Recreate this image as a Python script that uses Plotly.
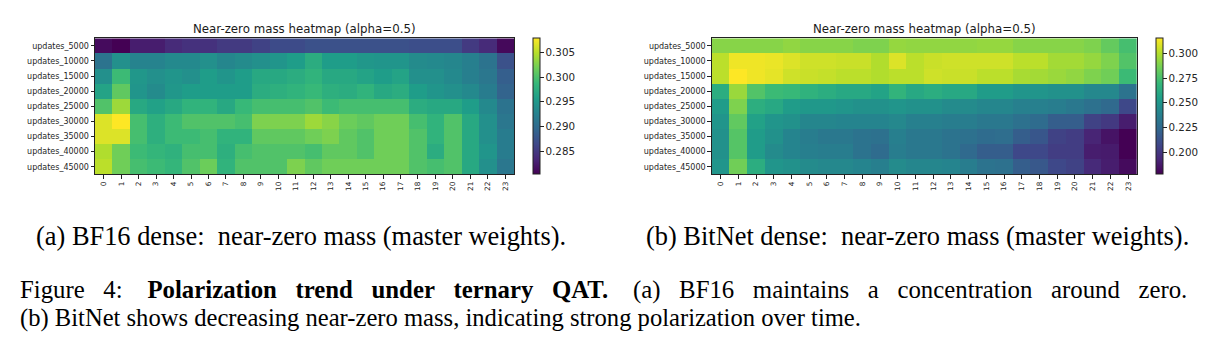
import numpy as np
import plotly.graph_objects as go

W, H = 1222, 343

rows = ["updates_5000", "updates_10000", "updates_15000", "updates_20000", "updates_25000",
        "updates_30000", "updates_35000", "updates_40000", "updates_45000"]
cols = [str(i) for i in range(24)]

bf16_5000 = [0.2811,0.2803,0.2825,0.2825,0.2836,0.2842,0.2842,0.2850,0.2850,0.2858,0.2866,0.2866,0.2872,0.2872,0.2872,0.2872,0.2872,0.2872,0.2869,0.2869,0.2869,0.2850,0.2836,0.2809]
bf16_10000 = [0.2908,0.2941,0.2927,0.2927,0.2933,0.2933,0.2941,0.2930,0.2935,0.2941,0.2947,0.2955,0.2974,0.2955,0.2955,0.2949,0.2947,0.2947,0.2935,0.2933,0.2930,0.2922,0.2908,0.2872]
bf16_15000 = [0.2941,0.2991,0.2949,0.2941,0.2947,0.2941,0.2955,0.2947,0.2955,0.2969,0.2969,0.2974,0.2982,0.2969,0.2969,0.2963,0.2955,0.2963,0.2941,0.2941,0.2933,0.2922,0.2913,0.2886]
bf16_20000 = [0.2963,0.3010,0.2947,0.2935,0.2949,0.2955,0.2955,0.2955,0.2955,0.2974,0.2977,0.2982,0.2988,0.2977,0.2974,0.2982,0.2969,0.2974,0.2955,0.2947,0.2941,0.2933,0.2919,0.2891]
bf16_25000 = [0.3002,0.3038,0.2969,0.2960,0.2969,0.2982,0.2982,0.2969,0.2988,0.2996,0.2996,0.2996,0.3002,0.2991,0.2996,0.2996,0.2996,0.2996,0.2974,0.2969,0.2969,0.2955,0.2933,0.2908]
bf16_30000 = [0.3065,0.3079,0.2996,0.2977,0.2991,0.3002,0.3002,0.3002,0.2996,0.3024,0.3024,0.3024,0.3038,0.3029,0.3016,0.3010,0.3018,0.3018,0.2996,0.2982,0.3002,0.2969,0.2941,0.2913]
bf16_35000 = [0.3065,0.3065,0.2996,0.2977,0.2991,0.2991,0.2996,0.2982,0.2982,0.3010,0.3010,0.3010,0.3018,0.3024,0.3010,0.3002,0.3018,0.3018,0.3002,0.2982,0.3002,0.2969,0.2941,0.2919]
bf16_40000 = [0.3046,0.3018,0.2991,0.2985,0.2980,0.2996,0.2996,0.2977,0.2996,0.3002,0.3002,0.3002,0.2996,0.3010,0.3010,0.3002,0.3018,0.3018,0.3002,0.2974,0.3002,0.2969,0.2947,0.2919]
bf16_45000 = [0.3051,0.3018,0.2996,0.2991,0.2985,0.3002,0.3016,0.2982,0.3002,0.3002,0.3002,0.3024,0.3010,0.3018,0.3018,0.3018,0.3018,0.3018,0.3002,0.2996,0.3002,0.2969,0.2941,0.2913]

bitnet_5000 = [0.290,0.290,0.290,0.290,0.292,0.290,0.290,0.290,0.288,0.288,0.293,0.292,0.292,0.292,0.292,0.293,0.293,0.290,0.290,0.290,0.290,0.288,0.282,0.274]
bitnet_10000 = [0.301,0.312,0.312,0.311,0.308,0.305,0.305,0.304,0.304,0.299,0.308,0.301,0.304,0.305,0.305,0.305,0.305,0.301,0.301,0.296,0.296,0.293,0.288,0.277]
bitnet_15000 = [0.301,0.315,0.312,0.310,0.305,0.304,0.303,0.301,0.301,0.299,0.301,0.301,0.305,0.304,0.304,0.301,0.301,0.297,0.296,0.294,0.292,0.288,0.285,0.271]
bitnet_20000 = [0.263,0.294,0.277,0.271,0.270,0.266,0.263,0.260,0.260,0.257,0.267,0.260,0.263,0.260,0.260,0.253,0.253,0.249,0.249,0.247,0.247,0.242,0.242,0.230]
bitnet_25000 = [0.253,0.288,0.264,0.260,0.253,0.251,0.251,0.249,0.247,0.247,0.249,0.247,0.247,0.244,0.244,0.241,0.241,0.238,0.238,0.236,0.233,0.229,0.225,0.208]
bitnet_30000 = [0.249,0.281,0.256,0.249,0.247,0.241,0.241,0.240,0.240,0.240,0.242,0.238,0.238,0.236,0.236,0.233,0.233,0.229,0.226,0.219,0.219,0.205,0.201,0.189]
bitnet_35000 = [0.247,0.278,0.253,0.247,0.240,0.236,0.233,0.233,0.230,0.229,0.237,0.233,0.233,0.230,0.229,0.226,0.227,0.219,0.215,0.205,0.203,0.192,0.185,0.178]
bitnet_40000 = [0.247,0.278,0.253,0.244,0.240,0.237,0.236,0.236,0.230,0.226,0.236,0.233,0.233,0.230,0.225,0.219,0.219,0.208,0.208,0.203,0.203,0.189,0.188,0.178]
bitnet_45000 = [0.249,0.285,0.263,0.249,0.247,0.244,0.242,0.242,0.240,0.237,0.244,0.241,0.241,0.240,0.236,0.230,0.229,0.219,0.216,0.208,0.205,0.194,0.189,0.182]

bf16 = [bf16_5000, bf16_10000, bf16_15000, bf16_20000, bf16_25000,
        bf16_30000, bf16_35000, bf16_40000, bf16_45000]
bitnet = [bitnet_5000, bitnet_10000, bitnet_15000, bitnet_20000, bitnet_25000,
          bitnet_30000, bitnet_35000, bitnet_40000, bitnet_45000]

bf16_ticks = [0.285, 0.290, 0.295, 0.300, 0.305]
bitnet_ticks = [0.200, 0.225, 0.250, 0.275, 0.300]

NB = "\u00a0"
title_text = "Near-zero mass heatmap (alpha=0.5)"
cap_a = "(a) BF16 dense:" + NB * 2 + "near-zero mass (master weights)."
cap_b = "(b) BitNet dense:" + NB * 2 + "near-zero mass (master weights)."

# first caption line is justified (wider interword spacing)
line1_words = ["Figure", "4:", "<b>Polarization", "trend", "under", "ternary", "QAT.</b>",
               "(a)", "BF16", "maintains", "a", "concentration", "around", "zero."]
line1_gaps = [3, 4, 3, 3, 3, 3, 4, 3, 3, 3, 3, 3, 3]
fig_line1 = line1_words[0]
for w_, g in zip(line1_words[1:], line1_gaps):
    fig_line1 += NB * g + w_
fig_line2 = "(b) BitNet shows decreasing near-zero mass, indicating strong polarization over time."

def px_x(p):
    return p / W

def px_y(p):
    return 1 - p / H

# plot-area pixel boxes
top, bot = 38.3, 174.3
L = dict(x0=95, x1=514, cb=533)
R = dict(x0=711.7, x1=1137, cb=1155.7)

fig = go.Figure()
sans = "DejaVu Sans"
tick_col = "#262626"

for i, (data, box, ticks) in enumerate([(bf16, L, bf16_ticks), (bitnet, R, bitnet_ticks)]):
    arr = np.array(data)
    xa = "x" if i == 0 else "x2"
    ya = "y" if i == 0 else "y2"
    fig.add_trace(go.Heatmap(
        z=arr, x=cols, y=rows, xaxis=xa, yaxis=ya,
        colorscale="Viridis", zmin=float(arr.min()), zmax=float(arr.max()),
        hoverinfo="skip",
        colorbar=dict(
            x=px_x(box["cb"]), xanchor="left", xpad=0, ypad=0,
            y=px_y(top), yanchor="top", lenmode="pixels", len=bot - top,
            thickness=6.5, thicknessmode="pixels",
            outlinewidth=1, outlinecolor="#222",
            tickvals=ticks, tickformat=".3f", ticks="outside", ticklen=3.5,
            tickcolor="#222", tickwidth=0.8,
            tickfont=dict(family=sans, size=10.3, color=tick_col),
        ),
    ))
    axis_common = dict(showline=True, linecolor="#222", linewidth=1, mirror=True,
                       ticks="outside", ticklen=3.5, tickcolor="#222", tickwidth=0.8,
                       showgrid=False, zeroline=False)
    fig.update_layout(**{
        ("xaxis" if i == 0 else "xaxis2"): dict(
            domain=[px_x(box["x0"]), px_x(box["x1"])], anchor=ya,
            tickangle=-90, tickfont=dict(family=sans, size=7.3, color=tick_col),
            type="category", **axis_common),
        ("yaxis" if i == 0 else "yaxis2"): dict(
            domain=[px_y(bot), px_y(top)], anchor=xa, autorange="reversed",
            tickfont=dict(family=sans, size=8.0, color=tick_col),
            type="category", **axis_common),
    })
    fig.add_annotation(text=title_text, xref="paper", yref="paper",
                       x=px_x((box["x0"] + box["x1"]) / 2), y=px_y(29),
                       xanchor="center", yanchor="middle", showarrow=False,
                       font=dict(family=sans, size=11.8, color="#1a1a1a"))

serif = "Liberation Serif"
fig.add_annotation(text=cap_a, xref="paper", yref="paper", x=px_x(301), y=px_y(236),
                   xanchor="center", yanchor="middle", showarrow=False,
                   font=dict(family=serif, size=26.4, color="black"))
fig.add_annotation(text=cap_b, xref="paper", yref="paper", x=px_x(918), y=px_y(236),
                   xanchor="center", yanchor="middle", showarrow=False,
                   font=dict(family=serif, size=26.4, color="black"))
fig.add_annotation(text=fig_line1, xref="paper", yref="paper", x=px_x(18), y=px_y(290),
                   xanchor="left", yanchor="middle", showarrow=False,
                   font=dict(family=serif, size=24.8, color="black"))
fig.add_annotation(text=fig_line2, xref="paper", yref="paper", x=px_x(18), y=px_y(318),
                   xanchor="left", yanchor="middle", showarrow=False,
                   font=dict(family=serif, size=24.6, color="black"))

fig.update_layout(width=W, height=H, margin=dict(l=0, r=0, t=0, b=0),
                  paper_bgcolor="white", plot_bgcolor="white", showlegend=False)

fig.write_html("out.html")
